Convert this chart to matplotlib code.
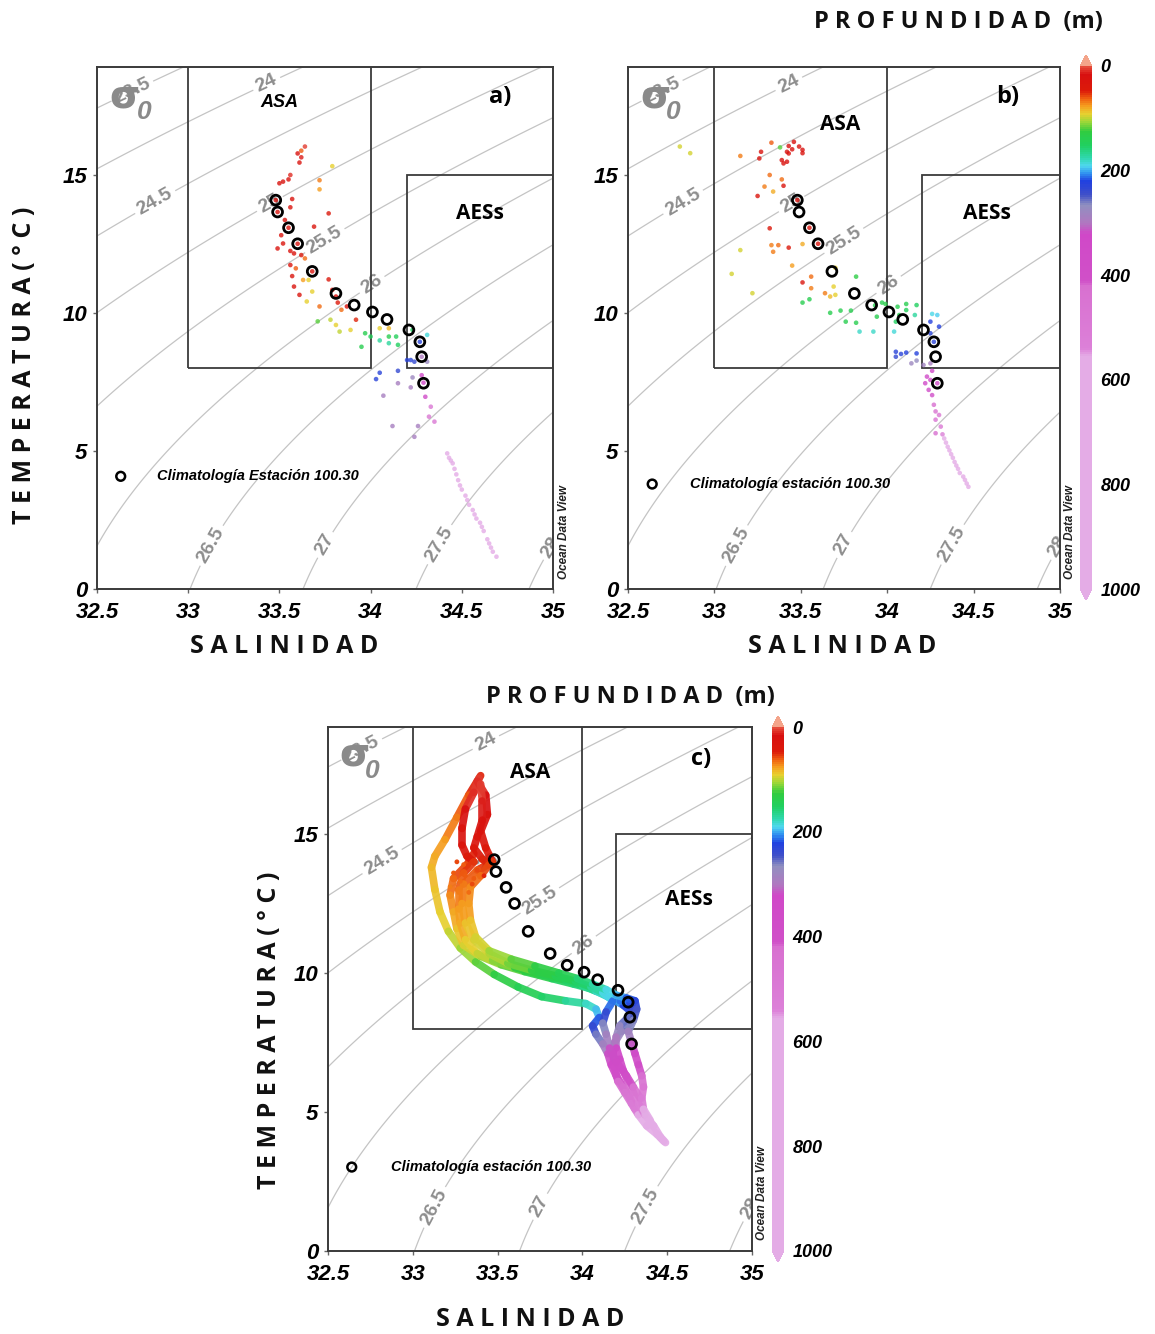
import numpy as np
import matplotlib
matplotlib.use("Agg")
import matplotlib.pyplot as plt
from matplotlib.colors import LinearSegmentedColormap, Normalize
from matplotlib.collections import LineCollection
from matplotlib.patches import Rectangle
from matplotlib.cm import ScalarMappable

plt.rcParams['font.family'] = ['Liberation Sans', 'DejaVu Sans']
plt.rcParams['font.weight'] = 'bold'

# ---------------------------------------------------------------- data
# Climatology of station 100.30 (salinity, temperature)
CLIM_SAL = [33.48, 33.49, 33.55, 33.60, 33.68, 33.81, 33.91, 34.01, 34.09, 34.21, 34.27, 34.28, 34.29]
CLIM_TEMP = [14.08, 13.65, 13.08, 12.50, 11.50, 10.70, 10.28, 10.03, 9.76, 9.38, 8.95, 8.41, 7.45]

# Panel a: bottle samples
A_SAL = [33.60, 33.62, 33.64, 33.61, 33.62, 33.56, 33.52, 33.50, 33.55, 33.72,
         33.72, 33.79, 33.57, 33.56, 33.77, 33.69, 33.53, 33.51, 33.49, 33.52,
         33.56, 33.58, 33.62, 33.64, 33.56, 33.59, 33.57, 33.63, 33.66, 33.77,
         33.58, 33.68, 33.61, 33.65, 33.72, 33.79, 33.81, 33.82, 33.84, 33.87,
         33.92, 33.71, 33.78, 33.83, 33.89, 33.81, 33.97, 33.95, 34.00, 34.05,
         34.10, 34.10, 34.15, 34.14, 34.05, 34.10, 34.31, 34.23, 34.20, 34.22,
         34.24, 34.31, 34.05, 34.03, 34.15, 34.23, 34.22, 34.15, 34.28, 34.30,
         34.07, 34.33, 34.32, 34.35, 34.12, 34.26, 34.24, 34.42, 34.43, 34.44,
         34.45, 34.46, 34.47, 34.48, 34.49, 34.50, 34.52, 34.53, 34.54, 34.56,
         34.57, 34.58, 34.60, 34.61, 34.62, 34.64, 34.65, 34.66, 34.67, 34.69,
         33.48, 33.49, 33.55, 33.60, 33.68, 34.27, 34.29, 34.28]
A_TEMP = [15.77, 15.87, 16.02, 15.44, 15.63, 14.99, 14.75, 14.69, 14.83, 14.80,
          14.47, 15.31, 14.12, 13.82, 13.60, 13.12, 13.36, 12.81, 12.33, 12.51,
          12.24, 12.15, 12.09, 11.97, 11.73, 11.61, 11.33, 11.19, 11.19, 11.21,
          10.95, 10.77, 10.65, 10.41, 10.23, 10.83, 10.59, 10.37, 10.11, 10.23,
          9.75, 9.69, 9.75, 9.32, 9.38, 9.56, 9.26, 8.77, 9.14, 9.00,
          9.14, 8.90, 8.84, 9.14, 9.44, 9.44, 9.20, 9.38, 8.29, 8.29,
          8.23, 8.23, 7.83, 7.60, 7.90, 7.66, 7.30, 7.45, 7.74, 6.96,
          7.00, 6.60, 6.24, 6.06, 5.90, 5.90, 5.51, 4.91, 4.75, 4.65,
          4.55, 4.35, 4.15, 3.94, 3.75, 3.60, 3.38, 3.22, 3.05, 2.86,
          2.70, 2.55, 2.40, 2.25, 2.10, 1.80, 1.65, 1.50, 1.35, 1.17,
          14.08, 13.65, 13.08, 12.50, 11.50, 8.95, 7.47, 8.41]
A_DEPTH = [20, 60, 5, 30, 15, 10, 25, 25, 30, 70,
           75, 90, 30, 30, 40, 35, 25, 30, 30, 35,
           30, 30, 40, 65, 35, 60, 35, 75, 90, 40,
           30, 90, 35, 90, 65, 35, 30, 45, 65, 35,
           50, 120, 100, 100, 90, 90, 140, 140, 145, 170,
           140, 170, 150, 145, 90, 85, 185, 150, 230, 230,
           235, 275, 230, 230, 235, 280, 290, 290, 350, 360,
           290, 480, 470, 480, 290, 290, 290, 650, 660, 670,
           690, 710, 730, 750, 770, 790, 810, 820, 840, 860,
           870, 880, 900, 910, 920, 940, 960, 970, 985, 1000,
           25, 30, 30, 30, 35, 230, 340, 300]

# Panel b: bottle samples
B_SAL = [32.80, 32.86, 33.15, 33.27, 33.26, 33.33, 33.38, 33.43, 33.46, 33.42,
         33.43, 33.45, 33.49, 33.51, 33.51, 33.39, 33.42, 33.40, 33.32, 33.39,
         33.29, 33.40, 33.34, 33.25, 33.32, 33.15, 33.33, 33.37, 33.34, 33.43,
         33.51, 33.10, 33.45, 33.22, 33.51, 33.56, 33.56, 33.51, 33.55, 33.64,
         33.70, 33.69, 33.67, 33.67, 33.73, 33.76, 33.82, 33.84, 33.92, 33.93,
         33.97, 33.99, 33.94, 33.70, 33.79, 33.82, 34.06, 34.11, 34.17, 34.07,
         34.11, 34.05, 34.04, 34.16, 34.26, 34.29, 34.25, 34.30, 34.25, 34.05,
         34.08, 34.11, 34.05, 34.17, 34.14, 34.17, 34.21, 34.25, 34.23, 34.25,
         34.22, 34.26, 34.24, 34.26, 34.27, 34.28, 34.28, 34.31, 34.28, 34.30,
         34.32, 34.33, 34.34, 34.35, 34.36, 34.37, 34.38, 34.39, 34.40, 34.41,
         34.42, 34.44, 34.45, 34.46, 34.47, 33.48, 33.55, 33.60, 34.27, 34.29]
B_TEMP = [16.02, 15.78, 15.68, 15.83, 15.59, 16.16, 15.99, 16.04, 16.19, 15.83,
          15.77, 15.92, 16.02, 15.90, 15.78, 15.53, 15.47, 15.41, 14.99, 14.83,
          14.57, 14.60, 14.39, 14.23, 13.06, 12.27, 12.45, 12.45, 12.21, 12.36,
          12.49, 11.41, 11.71, 10.71, 11.10, 11.31, 10.89, 10.37, 10.49, 10.71,
          11.63, 10.95, 10.59, 10.00, 10.08, 9.68, 11.31, 9.32, 9.32, 10.27,
          10.37, 10.32, 9.86, 10.65, 10.08, 9.64, 10.22, 10.32, 10.28, 9.92,
          10.10, 9.68, 9.32, 9.92, 9.96, 9.92, 9.68, 9.50, 9.26, 8.59,
          8.51, 8.56, 8.41, 8.53, 8.17, 8.27, 8.11, 8.17, 7.69, 7.57,
          7.45, 7.90, 7.21, 7.02, 6.67, 6.43, 6.13, 5.88, 5.64, 6.30,
          5.60, 5.45, 5.30, 5.15, 5.02, 4.88, 4.75, 4.60, 4.47, 4.35,
          4.20, 4.07, 3.95, 3.82, 3.70, 14.08, 13.08, 12.50, 8.95, 7.45]
B_DEPTH = [95, 95, 70, 25, 25, 60, 120, 20, 20, 20,
           25, 20, 25, 20, 30, 20, 20, 25, 65, 65,
           70, 30, 80, 35, 40, 95, 70, 65, 70, 40,
           80, 95, 75, 95, 35, 65, 70, 140, 140, 70,
           90, 90, 85, 140, 140, 140, 130, 180, 180, 140,
           140, 135, 140, 90, 140, 140, 140, 140, 150, 140,
           145, 150, 185, 170, 190, 195, 225, 225, 230, 230,
           230, 225, 235, 225, 280, 270, 285, 290, 350, 360,
           350, 340, 370, 380, 420, 440, 460, 480, 420, 470,
           520, 560, 600, 620, 640, 650, 670, 690, 700, 720,
           740, 760, 780, 800, 820, 30, 35, 35, 230, 350]

# Panel c: CTD profiles
C1_SAL = [33.39, 33.36, 33.31, 33.29, 33.29, 33.32, 33.36, 33.30, 33.27, 33.27,
          33.28, 33.31, 33.38, 33.47, 33.60, 33.75, 33.90, 34.00, 34.08, 34.15,
          34.22, 34.28, 34.30, 34.27, 34.22, 34.20, 34.20, 34.22, 34.24, 34.27,
          34.30, 34.33, 34.37, 34.42, 34.46, 34.49]
C1_TEMP = [17.0, 16.5, 15.9, 15.2, 14.6, 14.2, 14.0, 13.6, 13.0, 12.3,
           11.8, 11.2, 10.7, 10.45, 10.2, 9.95, 9.75, 9.55, 9.35, 9.15,
           9.0, 8.95, 8.7, 8.4, 8.1, 7.7, 7.3, 6.9, 6.5, 6.1,
           5.7, 5.3, 4.9, 4.5, 4.1, 3.9]
C1_DEPTH = [0, 8, 15, 22, 30, 40, 48, 58, 66, 72,
            78, 86, 95, 105, 118, 132, 145, 160, 175, 190,
            205, 220, 235, 250, 265, 285, 310, 340, 370, 410,
            450, 500, 560, 620, 680, 720]

C2_SAL = [33.40, 33.41, 33.41, 33.38, 33.36, 33.41, 33.45, 33.40, 33.34, 33.33,
          33.34, 33.37, 33.45, 33.58, 33.72, 33.86, 33.97, 34.06, 34.14, 34.20,
          34.26, 34.31, 34.32, 34.30, 34.27, 34.29, 34.31, 34.33, 34.35, 34.36,
          34.35, 34.36, 34.40]
C2_TEMP = [16.8, 16.2, 15.5, 14.9, 14.5, 14.1, 13.9, 13.5, 13.1, 12.5,
           11.9, 11.3, 10.8, 10.5, 10.25, 10.0, 9.8, 9.6, 9.4, 9.2,
           9.1, 9.0, 8.7, 8.3, 7.9, 7.5, 7.1, 6.7, 6.3, 5.9,
           5.5, 5.1, 4.7]
C2_DEPTH = [2, 10, 20, 30, 38, 45, 52, 60, 68, 74,
            82, 90, 100, 112, 125, 138, 150, 165, 180, 195,
            210, 222, 238, 255, 275, 300, 330, 370, 410, 450,
            490, 540, 600]

C3_SAL = [33.40, 33.33, 33.26, 33.19, 33.13, 33.11, 33.13, 33.16, 33.21, 33.28,
          33.37, 33.48, 33.62, 33.76, 33.90, 34.02, 34.08, 34.10, 34.06, 34.08,
          34.12, 34.15, 34.17, 34.20, 34.24, 34.28, 34.31]
C3_TEMP = [17.1, 16.4, 15.6, 14.8, 14.2, 13.8, 13.0, 12.2, 11.5, 10.9,
           10.4, 9.95, 9.5, 9.15, 9.0, 8.9, 8.7, 8.4, 8.1, 7.8,
           7.45, 7.1, 6.7, 6.3, 5.9, 5.5, 5.1]
C3_DEPTH = [40, 58, 66, 72, 78, 82, 86, 90, 95, 102,
            112, 124, 136, 150, 162, 175, 190, 208, 228, 248,
            272, 300, 335, 370, 410, 455, 500]

C4_SAL = [33.36, 33.32, 33.24, 33.22, 33.24, 33.26, 33.30, 33.40, 33.52, 33.66,
          33.82, 33.95, 34.04, 34.12, 34.18, 34.24, 34.29, 34.28, 34.23, 34.19,
          34.18, 34.19, 34.21, 34.25, 34.29, 34.33, 34.38, 34.44, 34.48]
C4_TEMP = [14.3, 13.9, 13.4, 12.8, 12.2, 11.6, 11.0, 10.6, 10.3, 10.05,
           9.8, 9.6, 9.45, 9.25, 9.05, 8.85, 8.6, 8.2, 7.9, 7.5,
           7.1, 6.6, 6.1, 5.7, 5.3, 4.9, 4.5, 4.2, 3.95]
C4_DEPTH = [45, 55, 62, 70, 76, 84, 92, 102, 114, 128,
            142, 155, 168, 182, 198, 215, 232, 250, 268, 292,
            320, 355, 400, 440, 485, 540, 600, 660, 720]

C5_SAL = [33.38, 33.43, 33.44, 33.40, 33.43, 33.47, 33.38, 33.30, 33.29, 33.31,
          33.36, 33.45, 33.56, 33.70, 33.84, 33.96, 34.05, 34.12, 34.18, 34.14,
          34.12, 34.14, 34.16, 34.20, 34.26, 34.30, 34.34]
C5_TEMP = [16.9, 16.4, 15.7, 15.1, 14.5, 14.0, 13.7, 13.2, 12.5, 11.8,
           11.2, 10.7, 10.35, 10.1, 9.9, 9.7, 9.5, 9.3, 9.0, 8.6,
           8.2, 7.8, 7.3, 6.8, 6.3, 5.9, 5.5]
C5_DEPTH = [5, 12, 22, 32, 40, 48, 56, 66, 74, 82,
            90, 100, 110, 124, 138, 150, 162, 178, 200, 225,
            250, 275, 300, 335, 380, 430, 480]

C_DOT_SAL = [33.24, 33.28, 33.31, 33.35, 33.38, 33.27, 33.33, 33.42, 33.22, 33.30, 33.36, 33.26]
C_DOT_TEMP = [13.6, 13.3, 13.5, 13.2, 13.7, 12.9, 12.9, 13.5, 13.1, 13.9, 13.4, 14.0]
C_DOT_DEPTH = [62, 65, 60, 58, 55, 70, 66, 50, 68, 62, 60, 55]

# Water-mass boxes: (S min, S max, T min, T max)
ASA_BOX = [33.0, 34.0, 8.0, 25.0]
AESS_BOX = [34.2, 35.0, 8.0, 15.0]

ISO_LEVELS = [23.5, 24.0, 24.5, 25.0, 25.5, 26.0, 26.5, 27.0, 27.5, 28.0]
ISO_LABEL_SAL = [32.66, 33.43, 32.82, 33.46, 33.75, 34.01, 33.12, 33.75, 34.38, 34.97]
ISO_LABEL_TEMP = [18.5, 18.3, 14.0, 13.8, 12.6, 11.0, 1.6, 1.6, 1.6, 1.6]

SAL_TICKS = [32.5, 33, 33.5, 34, 34.5, 35]
SAL_TICKLABELS = ['32.5', '33', '33.5', '34', '34.5', '35']
TEMP_TICKS = [0, 5, 10, 15]
DEPTH_TICKS = [0, 200, 400, 600, 800, 1000]

# ---------------------------------------------------------------- style
DEPTH_NODES = [
    (0.000, '#e64a3a'), (0.015, '#d81010'), (0.045, '#dc1a0a'),
    (0.060, '#f06010'), (0.075, '#f5a020'), (0.090, '#e8d030'),
    (0.105, '#a0d838'), (0.125, '#30cc40'), (0.150, '#20d060'),
    (0.175, '#30d8b0'), (0.190, '#50d8f0'), (0.205, '#3090f0'),
    (0.220, '#2040e0'), (0.245, '#4050c8'), (0.265, '#9090c0'),
    (0.300, '#b078c0'), (0.320, '#d048c8'), (0.410, '#d050c8'),
    (0.420, '#d870d0'), (0.540, '#dc80d8'), (0.555, '#e4ace6'),
    (1.000, '#e4ace6'),
]
cmap = LinearSegmentedColormap.from_list('odv_depth', DEPTH_NODES)
cmap.set_under('#f4a48a')
cmap.set_over('#e4ace6')
norm = Normalize(0, 1000)

W, H = 1155, 1334
fig = plt.figure(figsize=(W / 100, H / 100), dpi=100)


def fbox(x0, y0, x1, y1):
    return [x0 / W, 1 - y1 / H, (x1 - x0) / W, (y1 - y0) / H]


TICK_FONT = dict(family='Liberation Sans', weight='bold', style='italic', size=16)
ISO_COLOR = '#8e8e8e'


def sigma0(S, T):
    """Potential density anomaly at the surface (UNESCO 1981)."""
    rw = (999.842594 + 6.793952e-2 * T - 9.095290e-3 * T**2 + 1.001685e-4 * T**3
          - 1.120083e-6 * T**4 + 6.536332e-9 * T**5)
    a = 0.824493 - 4.0899e-3 * T + 7.6438e-5 * T**2 - 8.2467e-7 * T**3 + 5.3875e-9 * T**4
    b = -5.72466e-3 + 1.0227e-4 * T - 1.6546e-6 * T**2
    return rw + a * S + b * S**1.5 + 4.8314e-4 * S**2 - 1000.0


def setup_ts(ax, ytop):
    ax.set_xlim(32.5, 35)
    ax.set_ylim(0, ytop)
    sg, tg = np.meshgrid(np.linspace(32.5, 35, 300), np.linspace(0, 20, 300))
    cs = ax.contour(sg, tg, sigma0(sg, tg), levels=ISO_LEVELS,
                    colors='#c4c4c4', linewidths=0.9, zorder=1)
    labels = ax.clabel(cs, levels=ISO_LEVELS, inline=True, inline_spacing=4,
                       fontsize=14, colors=ISO_COLOR, fmt=lambda v: f'{v:g}',
                       manual=list(zip(ISO_LABEL_SAL, ISO_LABEL_TEMP)))
    for t in labels:
        t.set_fontweight('bold')
        t.set_clip_on(True)
        t.set_clip_path(ax.patch)
        t.set_zorder(2)

    for box in (ASA_BOX, AESS_BOX):
        ax.add_patch(Rectangle((box[0], box[2]), box[1] - box[0], box[3] - box[2],
                               fill=False, ec='#3a3a3a', lw=1.3, zorder=2))

    ax.set_xticks(SAL_TICKS)
    ax.set_xticklabels(SAL_TICKLABELS, fontdict=TICK_FONT)
    ax.set_yticks(TEMP_TICKS)
    ax.set_yticklabels([str(v) for v in TEMP_TICKS], fontdict=TICK_FONT)
    ax.tick_params(length=3, width=1, color='#666666')
    ax.tick_params(axis='x', pad=6)
    ax.tick_params(axis='y', pad=4)
    for sp in ax.spines.values():
        sp.set_color('#3a3a3a')
        sp.set_linewidth(1.4)

    # sigma-0 symbol drawn over the first isopycnal label
    ax.text(32.57, 17.45, 'σ', fontsize=28, color='#8a8a8a', weight='bold',
            family='DejaVu Sans', zorder=3)
    ax.text(32.72, 17.0, '0', fontsize=19, color='#8a8a8a', weight='bold',
            style='italic', zorder=3)

    ax.text(1.024, 0.11, 'Ocean Data View', transform=ax.transAxes, rotation=90,
            fontsize=8.5, style='italic', weight='bold', color='#222222',
            ha='center', va='center')

    ax.scatter(CLIM_SAL, CLIM_TEMP, s=50, facecolors='none', edgecolors='black',
               linewidths=2.0, zorder=6)


def add_colorbar(rect, title_xy):
    cax = fig.add_axes(rect)
    cb = fig.colorbar(ScalarMappable(norm=norm, cmap=cmap), cax=cax,
                      extend='both', extendfrac=0.021)
    cb.outline.set_visible(False)
    cax.invert_yaxis()
    cb.set_ticks(DEPTH_TICKS)
    cb.set_ticklabels([str(v) for v in DEPTH_TICKS])
    cax.tick_params(length=0, pad=6)
    for t in cax.get_yticklabels():
        t.set_fontsize(13)
        t.set_fontweight('bold')
        t.set_fontstyle('italic')
    fig.text(title_xy[0], title_xy[1], 'P R O F U N D I D A D  (m)',
             fontsize=17, weight='bold', family='Open Sans',
             ha='center', va='center', color='#111111')


AXIS_FONT = dict(fontsize=18, weight='bold', family='Open Sans', color='#111111')

# ---------------------------------------------------------------- panel a
ax_a = fig.add_axes(fbox(97, 67, 553, 589))
setup_ts(ax_a, 18.9)
ax_a.scatter(A_SAL, A_TEMP, c=A_DEPTH, cmap=cmap, norm=norm, s=11,
             linewidths=0, alpha=0.8, zorder=4)
ax_a.text(33.5, 17.6, 'ASA', fontsize=13, weight='bold', style='italic',
          ha='center', va='center')
ax_a.text(34.6, 13.6, 'AESs', fontsize=15, weight='bold', family='Open Sans',
          ha='center', va='center')
ax_a.text(34.71, 17.8, 'a)', fontsize=17, weight='bold', family='Open Sans',
          ha='center', va='center')
ax_a.scatter([32.63], [4.08], s=40, facecolors='none', edgecolors='black',
             linewidths=1.8, zorder=6)
ax_a.text(32.83, 4.08, 'Climatología Estación 100.30', fontsize=10.5,
          weight='bold', style='italic', va='center')
fig.text(25 / W, 1 - 365 / H, 'T E M P E R A T U R A ( ° C )', rotation=90,
         ha='center', va='center', **AXIS_FONT)
fig.text(284 / W, 1 - 646 / H, 'S A L I N I D A D', ha='center', va='center',
         **AXIS_FONT)

# ---------------------------------------------------------------- panel b
ax_b = fig.add_axes(fbox(628, 67, 1060, 589))
setup_ts(ax_b, 18.9)
ax_b.scatter(B_SAL, B_TEMP, c=B_DEPTH, cmap=cmap, norm=norm, s=11,
             linewidths=0, alpha=0.8, zorder=4)
ax_b.text(33.73, 16.8, 'ASA', fontsize=15, weight='bold', family='Open Sans',
          ha='center', va='center')
ax_b.text(34.58, 13.6, 'AESs', fontsize=15, weight='bold', family='Open Sans',
          ha='center', va='center')
ax_b.text(34.7, 17.8, 'b)', fontsize=17, weight='bold', family='Open Sans',
          ha='center', va='center')
ax_b.scatter([32.64], [3.8], s=40, facecolors='none', edgecolors='black',
             linewidths=1.8, zorder=6)
ax_b.text(32.86, 3.8, 'Climatología estación 100.30', fontsize=10.5,
          weight='bold', style='italic', va='center')
fig.text(842 / W, 1 - 646 / H, 'S A L I N I D A D', ha='center', va='center',
         **AXIS_FONT)
add_colorbar(fbox(1080, 55, 1092, 600), (958 / W, 1 - 22 / H))

# ---------------------------------------------------------------- panel c
ax_c = fig.add_axes(fbox(328, 727, 752, 1251))
setup_ts(ax_c, 18.85)
profiles = [(C3_SAL, C3_TEMP, C3_DEPTH), (C4_SAL, C4_TEMP, C4_DEPTH),
            (C1_SAL, C1_TEMP, C1_DEPTH), (C5_SAL, C5_TEMP, C5_DEPTH),
            (C2_SAL, C2_TEMP, C2_DEPTH)]
for s_vals, t_vals, d_vals in profiles:
    pts = np.column_stack([s_vals, t_vals])
    segs = np.stack([pts[:-1], pts[1:]], axis=1)
    d = np.asarray(d_vals, dtype=float)
    seg_depth = 0.5 * (d[:-1] + d[1:])
    lc = LineCollection(segs, colors=cmap(norm(seg_depth)), linewidths=5.5,
                        capstyle='round', joinstyle='round', alpha=0.92, zorder=4)
    ax_c.add_collection(lc)
ax_c.scatter(C_DOT_SAL, C_DOT_TEMP, c=C_DOT_DEPTH, cmap=cmap, norm=norm, s=12,
             linewidths=0, zorder=4)
ax_c.text(33.69, 17.2, 'ASA', fontsize=15, weight='bold', family='Open Sans',
          ha='center', va='center')
ax_c.text(34.63, 12.66, 'AESs', fontsize=15, weight='bold', family='Open Sans',
          ha='center', va='center')
ax_c.text(34.7, 17.7, 'c)', fontsize=17, weight='bold', family='Open Sans',
          ha='center', va='center')
ax_c.scatter([32.64], [3.02], s=40, facecolors='none', edgecolors='black',
             linewidths=1.8, zorder=6)
ax_c.text(32.87, 3.02, 'Climatología estación 100.30', fontsize=10.5,
          weight='bold', style='italic', va='center')
fig.text(270 / W, 1 - 1030 / H, 'T E M P E R A T U R A ( ° C )', rotation=90,
         ha='center', va='center', **AXIS_FONT)
fig.text(530 / W, 1 - 1320 / H, 'S A L I N I D A D', ha='center', va='center',
         **AXIS_FONT)
add_colorbar(fbox(772, 716, 784, 1262), (630 / W, 1 - 697 / H))

fig.savefig('out.png', dpi=100)
